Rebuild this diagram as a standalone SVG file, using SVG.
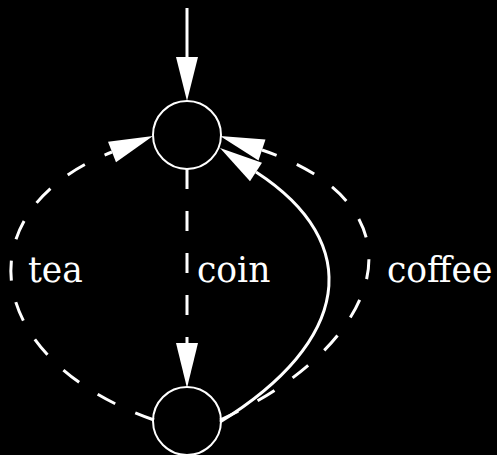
<svg xmlns="http://www.w3.org/2000/svg" width="497" height="455" viewBox="0 0 497 455">
<style>
.node{fill:none;stroke:#fff;stroke-width:2}
.edge{fill:none;stroke:#fff;stroke-width:3}
.dash{stroke-dasharray:20,22}
.head{fill:#fff;stroke:none}
.lbl{fill:#fff;font-family:"DejaVu Serif","Liberation Serif",serif;font-size:34.5px}
</style>
<rect width="497" height="455" fill="#000"/>
<g id="connectors">
<g id="e-init"><line class="edge" x1="187" y1="8" x2="187" y2="58"/><polygon class="head" points="176,57 198,57 187,101"/></g>
<g id="e-coin"><line class="edge dash" x1="187" y1="169" x2="187" y2="344"/><polygon class="head" points="176,343 198,343 187,388"/><text class="lbl" x="197" y="282">coin</text></g>
<g id="e-tea"><path class="edge dash" d="M154,420 C-20,359 -37,210 112,152"/><polygon class="head" points="153,136 116,162.3 108,141.7"/><text class="lbl" x="28" y="282">tea</text></g>
<g id="e-coffee"><path class="edge dash" d="M220,420 C384,346 433,208 262,150"/><polygon class="head" points="220,136 265.5,139.6 258.5,160.4"/><text class="lbl" x="387" y="282">coffee</text></g>
<g id="e-solid"><path class="edge" d="M220,422 C350,342 366,243.5 256,172"/><polygon class="head" points="220,148 262,162.8 250,181.2"/></g>
</g>
<g id="s0"><circle class="node" cx="187" cy="135" r="34"/></g>
<g id="s1"><circle class="node" cx="187" cy="421" r="34"/></g>
</svg>
